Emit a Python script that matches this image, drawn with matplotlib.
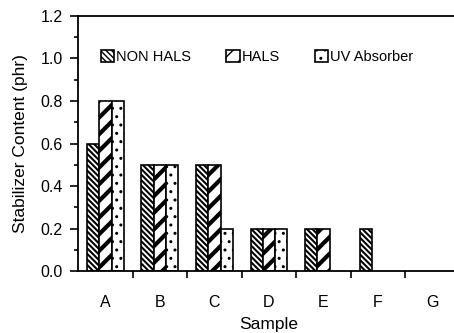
import numpy as np
import matplotlib
matplotlib.use("Agg")
import matplotlib.pyplot as plt
from matplotlib.ticker import MultipleLocator, FixedLocator, FormatStrFormatter

plt.rcParams['font.family'] = ['Liberation Sans', 'DejaVu Sans']

samples = ["A", "B", "C", "D", "E", "F", "G"]
non_hals = [0.6, 0.5, 0.5, 0.2, 0.2, 0.2, 0.0]
hals = [0.8, 0.5, 0.5, 0.2, 0.2, 0.0, 0.0]
uv_absorber = [0.8, 0.5, 0.2, 0.2, 0.0, 0.0, 0.0]

series = [
    ("NON HALS", non_hals, "\\" * 6, 1.5),
    ("HALS", hals, "//", 3.0),
    ("UV Absorber", uv_absorber, "..", 1.0),
]

fig = plt.figure(figsize=(4.54, 3.33), dpi=100)
ax = fig.add_axes([0.172, 0.186, 0.841, 0.766])

x = np.arange(len(samples))
w = 0.226
for i, (name, vals, hatch, hlw) in enumerate(series):
    plt.rcParams['hatch.linewidth'] = hlw
    bars = ax.bar(x + (i - 1) * w, vals, w, facecolor="white", edgecolor="black",
                  linewidth=1.2, hatch=hatch, label=name)
    for b in bars:
        if hasattr(b, "set_hatch_linewidth"):
            b.set_hatch_linewidth(hlw)
        if b.get_height() == 0:
            b.set_visible(False)

ax.set_xlim(-0.5, 6.5)
ax.set_ylim(0, 1.2)
ax.xaxis.set_major_locator(FixedLocator(x[:-1] + 0.5))
ax.xaxis.set_major_formatter(plt.NullFormatter())
ax.set_xticks(x, samples, minor=True)
ax.tick_params(axis="x", which="major", direction="out", length=5, width=1.2)
ax.tick_params(axis="x", which="minor", length=0, pad=17, labelsize=11.5)
ax.yaxis.set_major_locator(MultipleLocator(0.2))
ax.yaxis.set_minor_locator(MultipleLocator(0.1))
ax.yaxis.set_major_formatter(FormatStrFormatter("%.1f"))
ax.tick_params(axis="y", which="major", direction="out", length=6, width=1.2, labelsize=11.5, pad=5)
ax.tick_params(axis="y", which="minor", direction="out", length=3, width=1.2)
for s in ["left", "bottom", "top"]:
    ax.spines[s].set_linewidth(1.3)
ax.spines["right"].set_visible(False)

ax.set_xlabel("Sample", fontsize=12.5, labelpad=5)
ax.set_ylabel("Stabilizer Content (phr)", fontsize=12.5, labelpad=9)

ax.legend(loc="upper left", bbox_to_anchor=(0.045, 0.89), ncol=3, frameon=False,
          fontsize=10.5, handlelength=0.9, handleheight=0.9, handletextpad=0.15,
          columnspacing=2.4, borderaxespad=0)

fig.savefig("out.png", dpi=100)
